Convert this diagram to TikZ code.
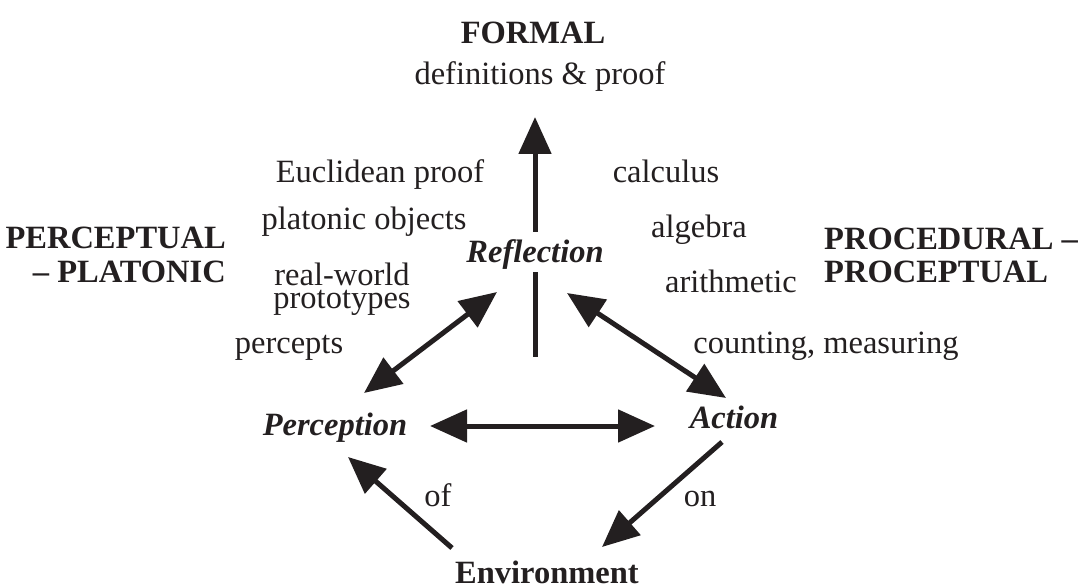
\documentclass[tikz,border=0pt]{standalone}
\usepackage{fontspec}
\setmainfont{Liberation Serif}
\usetikzlibrary{arrows.meta}
\definecolor{ink}{HTML}{231F20}
\newcommand{\diagfont}{\fontsize{32.5}{36}\selectfont}
\tikzset{
  lbl/.style  = {font=\diagfont, text=ink, inner sep=0pt, anchor=base},
  hdr/.style  = {lbl, font=\diagfont\bfseries},
  actn/.style = {lbl, font=\diagfont\bfseries\itshape},
  bigtri/.tip = {Triangle[length=37pt, width=32pt]},
  ln/.style   = {draw=ink, line width=5pt},
  arr/.style  = {ln, -bigtri},
  darr/.style = {ln, bigtri-bigtri},
}
\begin{document}
\begin{tikzpicture}[x=1pt, y=-1pt]
    \useasboundingbox (0,0) rectangle (1078,585);
    % headings and levels
    \node[hdr] (formal) at (533,44) {FORMAL};
    \node[lbl] (defs) at (540,85) {definitions \& proof};
    \node[lbl] (eucl) at (380,183) {Euclidean proof};
    \node[lbl] (calc) at (666,183) {calculus};
    \node[lbl] (plat) at (364,230) {platonic objects};
    \node[lbl] (alg) at (699,238) {algebra};
    \node[hdr, anchor=base east] (perc1) at (226,248) {PERCEPTUAL};
    \node[hdr, anchor=base east] (perc2) at (226,283) {-- PLATONIC};
    \node[hdr, anchor=base west] (proc1) at (824,250) {PROCEDURAL --};
    \node[hdr, anchor=base west] (proc2) at (824,283) {PROCEPTUAL};
    \node[lbl] (rw1) at (342,285) {real-world};
    \node[lbl] (rw2) at (342,308) {prototypes};
    \node[lbl] (arith) at (731,292) {arithmetic};
    \node[lbl] (count) at (826,353) {counting, measuring};
    \node[lbl] (pcpt) at (289,353) {percepts};
    % the three activities
    \node[actn] (refl) at (535,262) {Reflection};
    \node[actn] (perc) at (335,435) {Perception};
    \node[actn] (act) at (734,428) {Action};
    \node[hdr] (env) at (547,583) {Environment};
    \node[lbl] (of) at (438,506) {of};
    \node[lbl] (on) at (700,506) {on};
    % connectors
    \draw[arr] ([shift={(0,-30)}]refl.base) -- ([shift={(-5,32)}]defs.base);
    \draw[ln] ([shift={(0,10)}]refl.base) -- ++(0,85);
    \draw[darr] ([shift={(29,-42)}]perc.base) -- ([shift={(-38,30)}]refl.base);
    \draw[darr] ([shift={(32,31)}]refl.base) -- ([shift={(-8,-30)}]act.base);
    \draw[darr] ([shift={(95,-9)}]perc.base) -- ([shift={(-79,-2)}]act.base);
    \draw[arr] ([shift={(-95,-35)}]env.base) -- ([shift={(13,22)}]perc.base);
    \draw[arr] ([shift={(-12,14)}]act.base) -- ([shift={(55,-36)}]env.base);
  \end{tikzpicture}
\end{document}
